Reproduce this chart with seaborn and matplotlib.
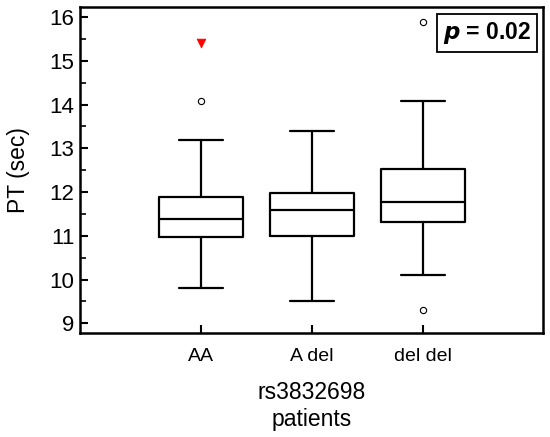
import matplotlib
matplotlib.use("Agg")
import matplotlib.pyplot as plt
import seaborn as sns
import pandas as pd

categories = ["AA", "A del", "del del"]
whislo = [9.8, 9.5, 10.1]
q1 = [10.97, 11.0, 11.31]
medians = [11.39, 11.58, 11.78]
q3 = [11.88, 11.98, 12.53]
whishi = [13.2, 13.39, 14.09]
outliers = [[14.09], [], [15.89, 9.31]]
extreme_cat = ["AA"]
extreme_val = [15.4]
yticks = [9, 10, 11, 12, 13, 14, 15, 16]

sns.set_style("ticks")
plt.rcParams["font.family"] = ["Liberation Sans", "DejaVu Sans"]
for k in ["text.color", "axes.labelcolor", "xtick.color", "ytick.color", "axes.edgecolor"]:
    plt.rcParams[k] = "black"

fig = plt.figure(figsize=(5.5, 4.37), dpi=100)
ax = fig.add_axes([0.1455, 0.238, 0.8415, 0.746])

stats = []
for i, c in enumerate(categories):
    stats.append(dict(label=c, whislo=whislo[i], q1=q1[i], med=medians[i],
                      q3=q3[i], whishi=whishi[i], fliers=outliers[i]))

lw = 1.6
ax.bxp(stats, positions=range(len(categories)), widths=0.75, patch_artist=False,
       boxprops=dict(color="black", linewidth=lw),
       medianprops=dict(color="black", linewidth=lw),
       whiskerprops=dict(color="black", linewidth=lw),
       capprops=dict(color="black", linewidth=lw),
       capwidths=0.39,
       flierprops=dict(marker="o", markersize=4.5, markerfacecolor="white",
                       markeredgecolor="black", markeredgewidth=0.8))

ext = pd.DataFrame({"x": [categories.index(c) for c in extreme_cat], "y": extreme_val})
sns.scatterplot(data=ext, x="x", y="y", marker="v", color="red", s=40,
                edgecolor="red", ax=ax, zorder=5)

ax.set_xlim(-1.09, 3.08)
ax.set_ylim(8.78, 16.23)
ax.set_yticks(yticks)
ax.set_yticks([y + 0.5 for y in yticks[:-1]], minor=True)
ax.set_xticks(range(len(categories)))
ax.set_xticklabels(categories, fontsize=14)
ax.tick_params(axis="y", labelsize=16, direction="in", length=6, width=1.5, pad=4, colors="black")
ax.tick_params(axis="y", which="minor", direction="in", length=4, width=1.2, colors="black")
ax.tick_params(axis="x", direction="in", length=6, width=1.5, pad=11, colors="black")
ax.set_ylabel("PT (sec)", fontsize=16.5, labelpad=14, color="black")
ax.set_xlabel("rs3832698\npatients", fontsize=16.5, labelpad=11, linespacing=1.22, color="black")
for s in ax.spines.values():
    s.set_visible(True)
    s.set_linewidth(1.8)
    s.set_color("black")

ax.text(0.975, 0.96, r"$\bfit{p}$ = 0.02", transform=ax.transAxes, ha="right", va="top",
        fontsize=16.5, fontweight="bold", color="black",
        bbox=dict(boxstyle="square,pad=0.25", facecolor="white", edgecolor="black", linewidth=1.3))

fig.savefig("out.png", dpi=100)
